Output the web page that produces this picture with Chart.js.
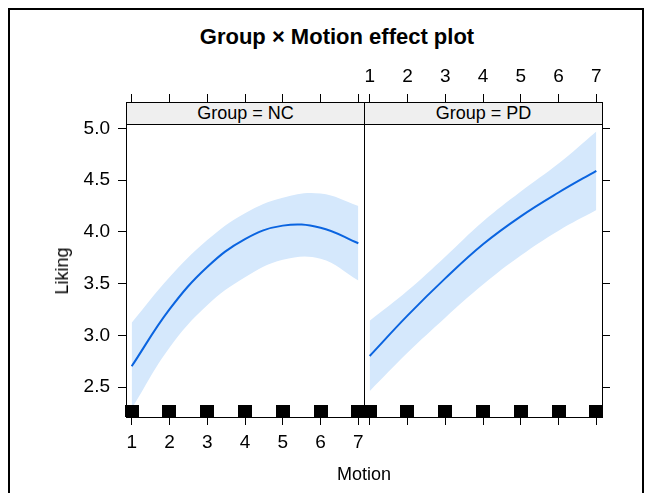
<!DOCTYPE html>
<html>
<head>
<meta charset="utf-8">
<script src="https://cdn.jsdelivr.net/npm/chart.js@4.4.1/dist/chart.umd.min.js"></script>
<style>
  html, body { margin:0; padding:0; background:#fff; width:650px; height:493px; overflow:hidden;
    font-family:"Liberation Sans", Arial, sans-serif; color:#000; }
  #frame { position:absolute; left:8px; top:8px; width:636px; height:600px; border:2px solid #000; box-sizing:border-box; }
  canvas { position:absolute; left:0; top:0; }
  .txt { position:absolute; white-space:nowrap; line-height:1; }
  #title { left:337px; top:37px; transform:translate(-50%,-50%); font-weight:bold; font-size:22px; }
  #ylab { left:62px; top:271px; transform:translate(-50%,-50%) rotate(-90deg); font-size:18px; }
  #xlab { left:364px; top:474px; transform:translate(-50%,-50%); font-size:18px; }
  .strip { position:absolute; top:102px; height:23px; width:239px; box-sizing:border-box;
    border:1px solid #000; background:#efefef; font-size:18px; text-align:center; line-height:21px; z-index:5; }
</style>
</head>
<body>
<div id="frame"></div>
<div id="title" class="txt">Group × Motion effect plot</div>
<canvas id="c1" width="650" height="493"></canvas>
<canvas id="c2" width="650" height="493"></canvas>
<div class="strip" id="s1" style="left:126px;"></div>
<div class="strip" id="s2" style="left:364px;"></div>
<div id="ylab" class="txt"></div>
<div id="xlab" class="txt"></div>
<script>
// ---------- data ----------
const TITLE = "Group × Motion effect plot";
const X_LABEL = "Motion";
const Y_LABEL = "Liking";
const GROUPS = ["Group = NC", "Group = PD"];
const MOTION = [1, 2, 3, 4, 5, 6, 7];
const X_TICKS = [1, 2, 3, 4, 5, 6, 7];
const Y_TICKS = [2.5, 3.0, 3.5, 4.0, 4.5, 5.0];

const NC_FIT   = [2.70, 3.25, 3.66, 3.93, 4.06, 4.04, 3.89];
const NC_UPPER = [3.12, 3.56, 3.92, 4.18, 4.33, 4.37, 4.25];
const NC_LOWER = [2.29, 2.88, 3.29, 3.56, 3.73, 3.74, 3.53];

const PD_FIT   = [2.80, 3.19, 3.55, 3.88, 4.15, 4.38, 4.59];
const PD_UPPER = [3.14, 3.43, 3.76, 4.10, 4.39, 4.66, 4.97];
const PD_LOWER = [2.46, 2.83, 3.17, 3.49, 3.77, 4.01, 4.21];

const RUG_X = [1, 2, 3, 4, 5, 6, 7];

// ---------- styling / layout ----------
const X_MIN = 0.85, X_MAX = 7.15;
const Y_MIN = 2.21, Y_MAX = 5.255;   // top end includes the strip band
const LINE_COLOR = "#0a64e0";
const BAND_COLOR = "rgb(213,232,252)";
const FONT = "'Liberation Sans', Arial, sans-serif";

document.getElementById('ylab').textContent = Y_LABEL;
document.getElementById('xlab').textContent = X_LABEL;
document.getElementById('s1').textContent = GROUPS[0];
document.getElementById('s2').textContent = GROUPS[1];

Chart.defaults.color = '#000';
Chart.defaults.font.family = FONT;
Chart.defaults.animation = false;

// rug mark image: black block occupying the top half, so it sits on the panel bottom
function rugImage() {
  const c = document.createElement('canvas');
  c.width = 14; c.height = 24;
  const g = c.getContext('2d');
  g.fillStyle = '#000';
  g.fillRect(0, 0, 14, 12);
  return c;
}
const RUG_IMG = rugImage();

const pts = (xs, ys) => xs.map((x, i) => ({x: x, y: ys[i]}));

function datasets(fit, upper, lower) {
  return [
    { type:'scatter', label:'rug', data: RUG_X.map(x => ({x: x, y: Y_MIN})),
      pointStyle: RUG_IMG, pointRadius: 7, clip: false, order: 0 },
    { type:'line', label:'fit', data: pts(MOTION, fit), borderColor: LINE_COLOR, borderWidth: 2,
      pointRadius: 0, tension: 0.4, fill: false, order: 1 },
    { type:'line', label:'upper', data: pts(MOTION, upper), borderWidth: 0, borderColor: 'rgba(0,0,0,0)',
      pointRadius: 0, tension: 0.4, fill: false, order: 2 },
    { type:'line', label:'lower', data: pts(MOTION, lower), borderWidth: 0, borderColor: 'rgba(0,0,0,0)',
      backgroundColor: BAND_COLOR, pointRadius: 0, tension: 0.4, fill: '-1', order: 3 }
  ];
}

const gridOpts = { drawOnChartArea: false, drawTicks: true, tickLength: 8, color: '#000', lineWidth: 1 };
const borderOpts = { display: true, color: '#000', width: 1 };
const xTicksSet = s => { s.ticks = X_TICKS.map(v => ({value: v})); };
const yTicksSet = s => { s.ticks = Y_TICKS.map(v => ({value: v})); };

const edgePlugin = {
  id: 'edges',
  afterDraw(chart, args, opts) {
    const {ctx, chartArea: a} = chart;
    ctx.save();
    ctx.strokeStyle = '#000';
    ctx.lineWidth = 1;
    ctx.beginPath();
    const x = opts.side === 'right' ? a.right + 0.5 : a.left + 0.5;
    ctx.moveTo(x, a.top);
    ctx.lineTo(x, a.bottom + 1);
    ctx.stroke();
    ctx.restore();
  }
};

function xScale(position, showLabels, h) {
  return {
    type: 'linear', position: position, axis: 'x', min: X_MIN, max: X_MAX,
    afterBuildTicks: xTicksSet,
    afterFit: s => { s.height = h; },
    grid: gridOpts, border: borderOpts,
    ticks: { display: showLabels, padding: 6, font: {size: 19}, color: '#000',
             maxRotation: 0, autoSkip: false, callback: v => String(v) }
  };
}

// Panel NC
new Chart(document.getElementById('c1'), {
  type: 'line',
  data: { datasets: datasets(NC_FIT, NC_UPPER, NC_LOWER) },
  options: {
    responsive: false, animation: false,
    layout: { padding: { left: 0, right: 286, top: 92, bottom: 36 } },
    plugins: { legend: {display: false}, tooltip: {enabled: false}, edges: {side: 'right'} },
    scales: {
      x: xScale('bottom', true, 40),
      xTop: xScale('top', false, 10),
      y: {
        type: 'linear', position: 'left', min: Y_MIN, max: Y_MAX,
        afterBuildTicks: yTicksSet,
        afterFit: s => { s.width = 126; },
        grid: gridOpts, border: borderOpts,
        ticks: { padding: 8, font: {size: 19}, color: '#000', callback: v => Number(v).toFixed(1) }
      }
    }
  },
  plugins: [edgePlugin]
});

// Panel PD
new Chart(document.getElementById('c2'), {
  type: 'line',
  data: { datasets: datasets(PD_FIT, PD_UPPER, PD_LOWER) },
  options: {
    responsive: false, animation: false,
    layout: { padding: { left: 364, right: 38, top: 62, bottom: 66 } },
    plugins: { legend: {display: false}, tooltip: {enabled: false}, edges: {side: 'left'} },
    scales: {
      x: xScale('bottom', false, 10),
      xTop: xScale('top', true, 40),
      y: {
        type: 'linear', position: 'right', min: Y_MIN, max: Y_MAX,
        afterBuildTicks: yTicksSet,
        afterFit: s => { s.width = 10; },
        grid: gridOpts, border: borderOpts,
        ticks: { display: false }
      }
    }
  },
  plugins: [edgePlugin]
});
</script>
</body>
</html>
